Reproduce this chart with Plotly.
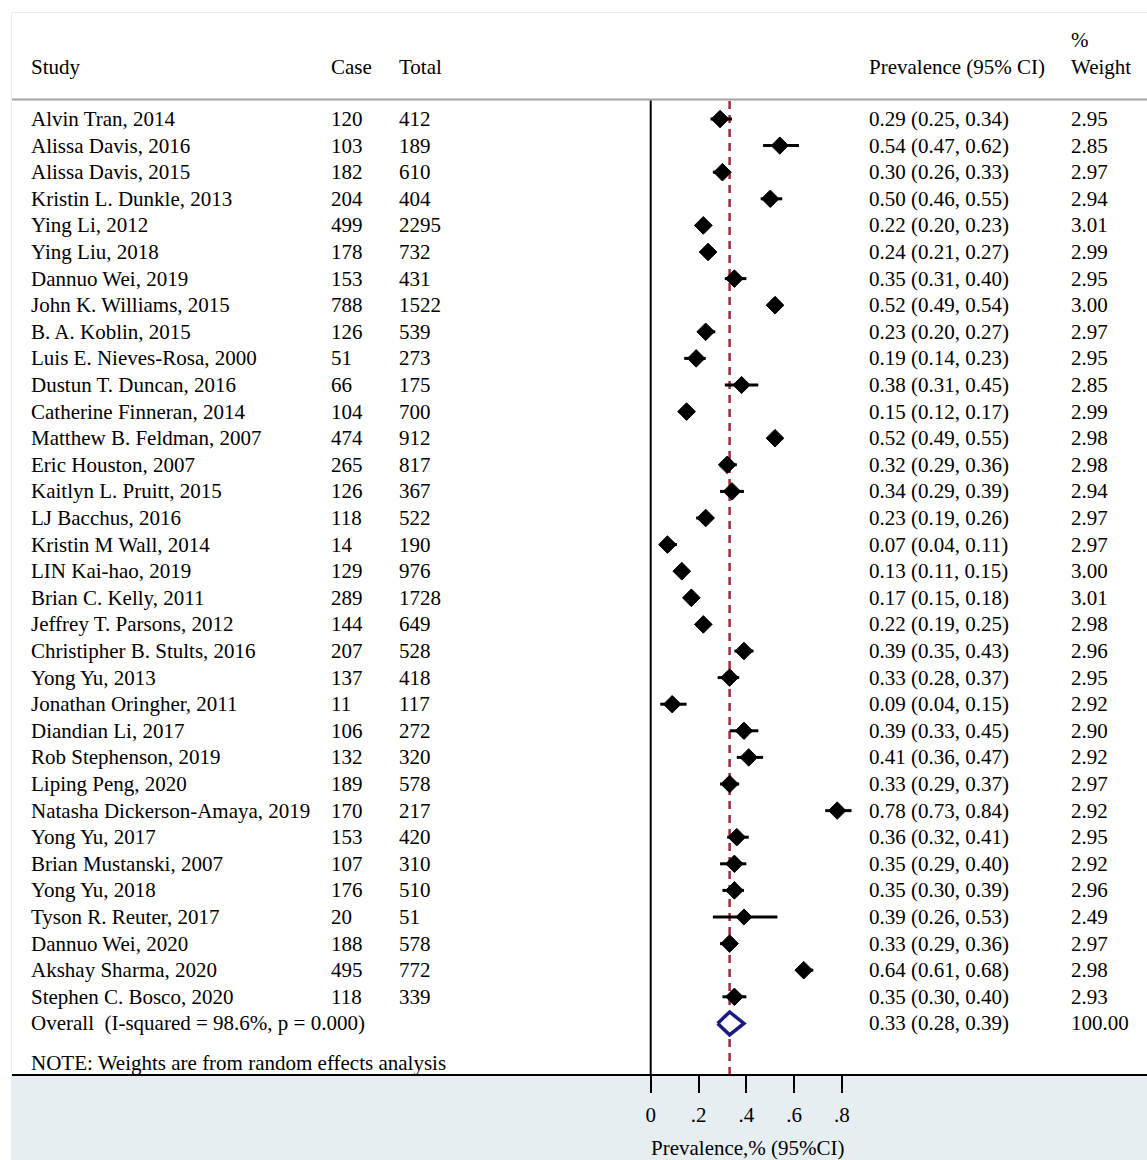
import plotly.graph_objects as go

# ---- data -------------------------------------------------------------
studies = [
    "Alvin Tran, 2014", "Alissa Davis, 2016", "Alissa Davis, 2015",
    "Kristin L. Dunkle, 2013", "Ying Li, 2012", "Ying Liu, 2018",
    "Dannuo Wei, 2019", "John K. Williams, 2015", "B. A. Koblin, 2015",
    "Luis E. Nieves-Rosa, 2000", "Dustun T. Duncan, 2016",
    "Catherine Finneran, 2014", "Matthew B. Feldman, 2007",
    "Eric Houston, 2007", "Kaitlyn L. Pruitt, 2015", "LJ Bacchus, 2016",
    "Kristin M Wall, 2014", "LIN Kai-hao, 2019", "Brian C. Kelly, 2011",
    "Jeffrey T. Parsons, 2012", "Christipher B. Stults, 2016",
    "Yong Yu, 2013", "Jonathan Oringher, 2011", "Diandian Li, 2017",
    "Rob Stephenson, 2019", "Liping Peng, 2020",
    "Natasha Dickerson-Amaya, 2019", "Yong Yu, 2017",
    "Brian Mustanski, 2007", "Yong Yu, 2018", "Tyson R. Reuter, 2017",
    "Dannuo Wei, 2020", "Akshay Sharma, 2020", "Stephen C. Bosco, 2020",
]
cases = [120, 103, 182, 204, 499, 178, 153, 788, 126, 51, 66, 104, 474, 265,
         126, 118, 14, 129, 289, 144, 207, 137, 11, 106, 132, 189, 170, 153,
         107, 176, 20, 188, 495, 118]
totals = [412, 189, 610, 404, 2295, 732, 431, 1522, 539, 273, 175, 700, 912,
          817, 367, 522, 190, 976, 1728, 649, 528, 418, 117, 272, 320, 578,
          217, 420, 310, 510, 51, 578, 772, 339]
prevalence = [0.29, 0.54, 0.30, 0.50, 0.22, 0.24, 0.35, 0.52, 0.23, 0.19,
              0.38, 0.15, 0.52, 0.32, 0.34, 0.23, 0.07, 0.13, 0.17, 0.22,
              0.39, 0.33, 0.09, 0.39, 0.41, 0.33, 0.78, 0.36, 0.35, 0.35,
              0.39, 0.33, 0.64, 0.35]
ci_low = [0.25, 0.47, 0.26, 0.46, 0.20, 0.21, 0.31, 0.49, 0.20, 0.14, 0.31,
          0.12, 0.49, 0.29, 0.29, 0.19, 0.04, 0.11, 0.15, 0.19, 0.35, 0.28,
          0.04, 0.33, 0.36, 0.29, 0.73, 0.32, 0.29, 0.30, 0.26, 0.29, 0.61,
          0.30]
ci_high = [0.34, 0.62, 0.33, 0.55, 0.23, 0.27, 0.40, 0.54, 0.27, 0.23, 0.45,
           0.17, 0.55, 0.36, 0.39, 0.26, 0.11, 0.15, 0.18, 0.25, 0.43, 0.37,
           0.15, 0.45, 0.47, 0.37, 0.84, 0.41, 0.40, 0.39, 0.53, 0.36, 0.68,
           0.40]
weights = [2.95, 2.85, 2.97, 2.94, 3.01, 2.99, 2.95, 3.00, 2.97, 2.95, 2.85,
           2.99, 2.98, 2.98, 2.94, 2.97, 2.97, 3.00, 3.01, 2.98, 2.96, 2.95,
           2.92, 2.90, 2.92, 2.97, 2.92, 2.95, 2.92, 2.96, 2.49, 2.97, 2.98,
           2.93]
overall_est, overall_low, overall_high = 0.33, 0.28, 0.39
overall_label = "Overall\u00a0\u00a0(I-squared = 98.6%, p = 0.000)"
note_label = "NOTE: Weights are from random effects analysis"
tick_vals = [0, 0.2, 0.4, 0.6, 0.8]
tick_text = ["0", ".2", ".4", ".6", ".8"]

# ---- layout geometry (pixels) ------------------------------------------
W, H = 1147, 1160
ROW0, ROWH = 119.0, 26.6          # centre of first study row, row pitch
X_ZERO, X_UNIT = 650.7, 239.1     # pixel of prevalence 0, pixels per unit
FRAME_L, FRAME_T = 11, 12
AXIS_Y = 1075
FONT = dict(family="Liberation Serif, Times New Roman, serif", size=21,
            color="black")
COL_X = {"study": 29, "case": 329, "total": 397, "prev": 867, "weight": 1069}


def yp(pix):
    return 1 - pix / H


def xp(pix):
    return pix / W


n = len(studies)
rows = list(range(n))
overall_row = n
note_row = n + 1.5

fig = go.Figure()

# confidence-interval whiskers
cx, cy = [], []
for r, lo, hi in zip(rows, ci_low, ci_high):
    cx += [lo, hi, None]
    cy += [r, r, None]
fig.add_trace(go.Scatter(x=cx, y=cy, mode="lines",
                         line=dict(color="black", width=3),
                         hoverinfo="skip", showlegend=False))

# point estimates, sized by weight
fig.add_trace(go.Scatter(
    x=prevalence, y=rows, mode="markers", opacity=1,
    marker=dict(symbol="diamond", color="black", opacity=1,
                size=[13.5 * (w / 2.95) ** 0.5 for w in weights],
                line=dict(width=1, color="black")),
    showlegend=False))

# pooled estimate diamond
half_h = 0.43
fig.add_trace(go.Scatter(
    x=[overall_low, overall_est, overall_high, overall_est, overall_low],
    y=[overall_row, overall_row - half_h, overall_row, overall_row + half_h,
       overall_row],
    mode="lines", fill="toself", fillcolor="white",
    line=dict(color="#1b1b7d", width=3.5), showlegend=False,
    hoverinfo="skip"))

shapes = [
    # outer tinted frame
    dict(type="rect", xref="paper", yref="paper", x0=xp(FRAME_L), x1=1,
         y0=0, y1=yp(FRAME_T), fillcolor="#e6eef1", line=dict(width=0),
         layer="below"),
    # white table / plot panel
    dict(type="rect", xref="paper", yref="paper", x0=xp(FRAME_L + 1), x1=1,
         y0=yp(AXIS_Y), y1=yp(FRAME_T + 1), fillcolor="white",
         line=dict(width=0), layer="below"),
    # header rule
    dict(type="line", xref="paper", yref="paper", x0=xp(FRAME_L + 1), x1=1,
         y0=yp(99.5), y1=yp(99.5), line=dict(color="#a3a3a3", width=2),
         layer="below"),
    # null / zero line
    dict(type="line", xref="x", yref="paper", x0=0, x1=0,
         y0=yp(AXIS_Y), y1=yp(100.5), line=dict(color="black", width=2),
         layer="below"),
    # pooled estimate reference line
    dict(type="line", xref="x", yref="paper", x0=overall_est,
         x1=overall_est, y0=yp(AXIS_Y), y1=yp(100.5),
         line=dict(color="#9e2a3a", width=2.5, dash="8px,6px"),
         layer="below"),
]

ann = []


def add_text(px, y, text, yref="y"):
    ann.append(dict(x=xp(px), xref="paper", y=y, yref=yref, text=text,
                    showarrow=False, xanchor="left", yanchor="middle",
                    font=FONT))


# column headers
add_text(COL_X["study"], yp(67), "Study", "paper")
add_text(COL_X["case"], yp(67), "Case", "paper")
add_text(COL_X["total"], yp(67), "Total", "paper")
add_text(COL_X["prev"], yp(67), "Prevalence (95% CI)", "paper")
add_text(COL_X["weight"], yp(40), "%", "paper")
add_text(COL_X["weight"], yp(67), "Weight", "paper")

for r in rows:
    add_text(COL_X["study"], r, studies[r])
    add_text(COL_X["case"], r, str(cases[r]))
    add_text(COL_X["total"], r, str(totals[r]))
    add_text(COL_X["prev"], r,
             f"{prevalence[r]:.2f} ({ci_low[r]:.2f}, {ci_high[r]:.2f})")
    add_text(COL_X["weight"], r, f"{weights[r]:.2f}")

add_text(COL_X["study"], overall_row, overall_label)
add_text(COL_X["prev"], overall_row,
         f"{overall_est:.2f} ({overall_low:.2f}, {overall_high:.2f})")
add_text(COL_X["weight"], overall_row, "100.00")
add_text(COL_X["study"], note_row, note_label)

# x-axis title
ann.append(dict(x=xp(748), xref="paper", y=yp(1148), yref="paper",
                text="Prevalence,% (95%CI)", showarrow=False,
                xanchor="center", yanchor="middle", font=FONT))

dom0 = xp(FRAME_L + 1)
fig.update_layout(
    width=W, height=H,
    margin=dict(l=0, r=0, t=0, b=0),
    paper_bgcolor="white", plot_bgcolor="rgba(0,0,0,0)",
    showlegend=False,
    shapes=shapes, annotations=ann,
    xaxis=dict(domain=[dom0, 1],
               range=[(FRAME_L + 1 - X_ZERO) / X_UNIT, (W - X_ZERO) / X_UNIT],
               anchor="free", position=yp(AXIS_Y),
               showline=True, linecolor="black", linewidth=2,
               ticks="outside", ticklen=17, tickwidth=2, tickcolor="black",
               ticklabelstandoff=4,
               tickvals=tick_vals, ticktext=tick_text,
               tickfont=FONT, showgrid=False, zeroline=False),
    yaxis=dict(domain=[0, 1],
               range=[(H - ROW0) / ROWH, -ROW0 / ROWH],
               visible=False, showgrid=False, zeroline=False),
)

fig.write_html("out.html")
